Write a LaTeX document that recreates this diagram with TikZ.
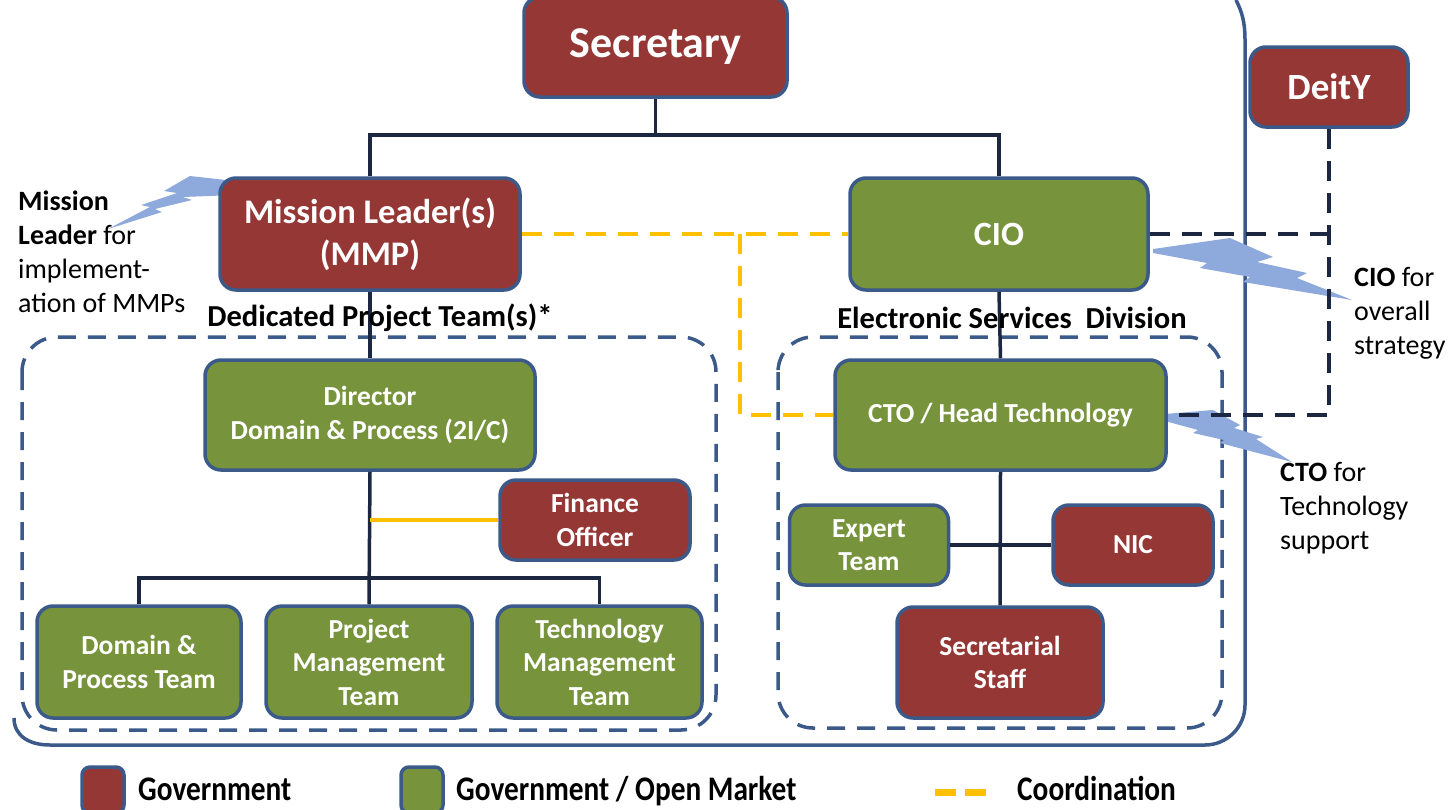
\documentclass[tikz,border=0pt]{standalone}
\usepackage{fontspec}
\setmainfont{Carlito}
\newfontfamily\legfont[FakeStretch=0.85]{Carlito}
\definecolor{gred}{HTML}{953735}
\definecolor{ggreen}{HTML}{77933C}
\definecolor{bord}{HTML}{3B5A8A}
\definecolor{navy}{HTML}{1C2841}
\definecolor{coordc}{HTML}{FFC000}
\definecolor{boltc}{HTML}{8EA9DB}
\tikzset{
  box/.style={draw=bord, line width=3.5pt, rounded corners=16pt, text=white,
    font=\bfseries\fontsize{27.5}{33.5}\selectfont, align=center, inner sep=0pt},
  govbox/.style={box, fill=gred},
  openbox/.style={box, fill=ggreen},
  conn/.style={draw=navy, line width=3.5pt},
  coordline/.style={draw=coordc, line width=4pt, dash pattern=on 20pt off 12pt},
  navdash/.style={draw=navy, line width=3.5pt, dash pattern=on 20pt off 12pt},
  groupbox/.style={draw=bord, line width=3.5pt, dash pattern=on 18pt off 12pt, rounded corners=35pt},
  frame/.style={draw=bord, line width=3.5pt},
  lbl/.style={text=black, inner sep=0pt, align=left, font=\fontsize{28}{34}\selectfont},
  legtext/.style={lbl, anchor=base west, font=\legfont\bfseries\fontsize{34.5}{38}\selectfont},
}
\begin{document}
\begin{tikzpicture}[x=1pt,y=-1pt]
\useasboundingbox (0,0) rectangle (1451,809);
% outer frame
\draw[frame] (14,718) .. controls (14,735) and (28,745) .. (50,745) -- (1205,745)
  .. controls (1227,745) and (1245,727) .. (1245,705) -- (1245,40)
  .. controls (1245,22) and (1242,12) .. (1236,0);
% group boxes
\draw[groupbox] (22,337) rectangle (716,730);
\draw[groupbox] (778,337) rectangle (1222,728);
% bolts
\fill[boltc] (235,181) -- (190,176) -- (164,191) -- (177,193) -- (141,205) -- (150,207)
  -- (108,229) -- (162,212) -- (155,209) -- (192,200) -- (183,197) -- (235,195) -- cycle;
\fill[boltc] (1153,249) -- (1230,238) -- (1273,257) -- (1257,262) -- (1307,273) -- (1297,278)
  -- (1352,300) -- (1243,282) -- (1250,277) -- (1200,268) -- (1207,263) -- (1153,253) -- cycle;
\fill[boltc] (1165,414) -- (1213,410) -- (1240,425) -- (1234,428) -- (1263,437) -- (1256,439)
  -- (1292,462) -- (1220,443) -- (1224,440) -- (1193,433) -- (1198,430) -- (1165,421) -- cycle;
% nodes
\node[govbox, minimum width=263pt, minimum height=100pt, font=\bfseries\fontsize{44}{48}\selectfont] (sec) at (655.5,47) {Secretary};
\node[govbox, minimum width=158pt, minimum height=80pt, font=\bfseries\fontsize{37}{40}\selectfont] (deity) at (1329,87) {DeitY};
\node[govbox, minimum width=300pt, minimum height=112pt, font=\bfseries\fontsize{34.5}{42}\selectfont] (ml) at (370,234) {Mission Leader(s)\\(MMP)};
\node[openbox, minimum width=298pt, minimum height=112pt, font=\bfseries\fontsize{34}{42}\selectfont] (cio) at (999,234) {CIO};
\node[openbox, minimum width=330pt, minimum height=110pt] (dir) at (370,415) {Director\\Domain \& Process (2I/C)};
\node[govbox, minimum width=190pt, minimum height=80pt] (fin) at (595,520) {Finance\\Officer};
\node[openbox, minimum width=204pt, minimum height=112pt] (dp) at (139,662) {Domain \&\\Process Team};
\node[openbox, minimum width=206pt, minimum height=112pt] (pm) at (369,662) {Project\\Management\\Team};
\node[openbox, minimum width=205pt, minimum height=112pt] (tm) at (599.5,662) {Technology\\Management\\Team};
\node[openbox, minimum width=331pt, minimum height=110pt] (cto) at (1000.5,415) {CTO / Head Technology};
\node[openbox, minimum width=159pt, minimum height=80pt] (exp) at (869,545) {Expert\\Team};
\node[govbox, minimum width=160pt, minimum height=80pt] (nic) at (1133,545) {NIC};
\node[govbox, minimum width=206pt, minimum height=111pt] (ss) at (1000,662.5) {Secretarial\\Staff};
% connectors
\coordinate (jtop) at (655.5,135);
\coordinate (jteam) at (370,578);
\draw[conn] (sec.south) -- (jtop);
\draw[conn] (ml.north) -- (ml.north |- jtop) -| (cio.north);
\draw[conn] (ml.south) -- (dir.north);
\draw[conn] (cio.south) -- (cto.north);
\draw[conn] (dir.south) -- (pm.north);
\draw[conn] (dp.north) -- (dp.north |- jteam) -| (tm.north);
\draw[draw=coordc, line width=4pt] (fin.west) -- (fin.west -| dir.south);
\draw[conn] (cto.south) -- (ss.north);
\draw[conn] (exp.east) -- (nic.west);
% coordination
\coordinate (cy) at (740,234);
\draw[coordline] (ml.east) -- (cio.west);
\draw[coordline] (cy) |- (cto.west);
\draw[navdash] (cio.east) -- (cio.east -| deity.south);
\draw[navdash] (deity.south) -- (deity.south |- cto.east) -- (cto.east);
% labels
\node[lbl, anchor=north west] (mltxt) at (18,191) {\textbf{Mission}\\\textbf{Leader} for\\implement-\\ation of MMPs};
\node[lbl, anchor=north west] (ciotxt) at (1354,267) {\textbf{CIO} for\\overall\\strategy};
\node[lbl, anchor=north west] (ctotxt) at (1280,462) {\textbf{CTO} for\\Technology\\support};
\node[lbl, font=\bfseries\fontsize{30.5}{34}\selectfont] (dpt) at (380,318) {Dedicated Project Team(s)*};
\node[lbl, font=\bfseries\fontsize{30.5}{34}\selectfont] (esd) at (1012,318) {Electronic Services\ \ Division};
% legend
\node[govbox, rounded corners=8pt, minimum width=42pt, minimum height=46pt] (lg1) at (103,790) {};
\node[openbox, rounded corners=8pt, minimum width=42pt, minimum height=46pt] (lg2) at (422,790) {};
\draw[draw=coordc, line width=7pt, dash pattern=on 21pt off 9pt] (935,792) coordinate (lc1) -- (986,792) coordinate (lc2);
\node[legtext] (lt1) at (138,800) {Government};
\node[legtext] (lt2) at (456,800) {Government / Open Market};
\node[legtext] (lt3) at (1017,800) {Coordination};
\end{tikzpicture}
\end{document}
